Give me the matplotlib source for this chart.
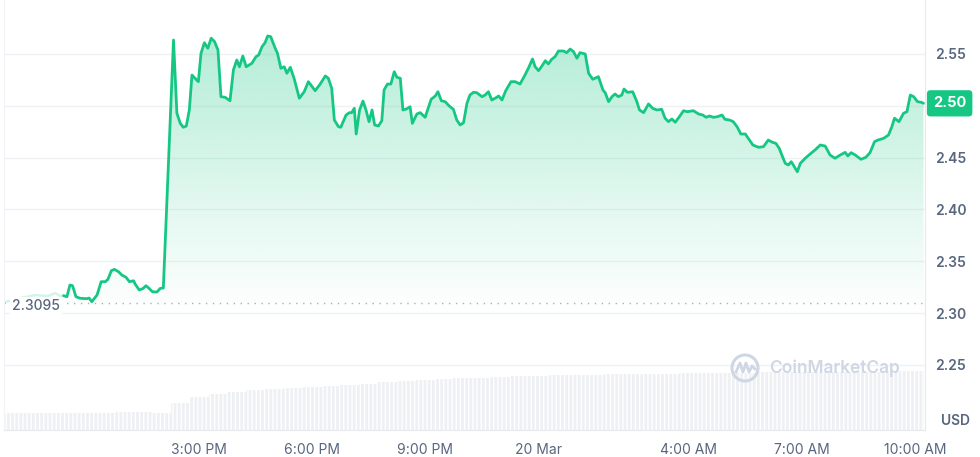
import matplotlib
matplotlib.use("Agg")
import matplotlib.pyplot as plt
import numpy as np
from matplotlib.patches import Circle, Polygon
import matplotlib.transforms as mtransforms

plt.rcParams['font.family'] = ['Inter', 'DejaVu Sans']
plt.rcParams['hatch.color'] = 'white'

GREEN = '#16c784'
GREY = '#58667e'
GRID = '#eff2f5'

# hours relative to 20 Mar 00:00 and price in USD
hours = [-12.60, -12.51, -12.43, -12.36, -12.27, -12.16, -11.98, -11.92, -11.85, -11.71,
         -11.60, -11.49, -11.42, -11.33, -11.25, -11.14, -11.05, -10.94, -10.85, -10.74,
         -10.70, -10.59, -10.50, -10.41, -10.33, -10.24, -10.12, -10.03, -9.95, -9.68,
         -9.59, -9.50, -9.42, -9.34, -9.26, -9.19, -9.11, -9.02, -8.95, -8.86,
         -8.77, -8.68, -8.59, -8.50, -8.42, -8.31, -8.18, -8.09, -8.00, -7.93,
         -7.84, -7.75, -7.60, -7.49, -7.42, -7.33, -7.25, -7.18, -7.10, -6.98,
         -6.92, -6.83, -6.74, -6.67, -6.58, -6.48, -6.34, -6.21, -6.10, -5.92,
         -5.79, -5.65, -5.57, -5.48, -5.41, -5.30, -5.24, -5.10, -5.01, -4.95,
         -4.88, -4.83, -4.74, -4.65, -4.57, -4.49, -4.41, -4.34, -4.24, -4.15,
         -4.09, -4.00, -3.91, -3.82, -3.75, -3.66, -3.59, -3.50, -3.40, -3.34,
         -3.22, -3.13, -3.00, -2.84, -2.73, -2.66, -2.57, -2.47, -2.36, -2.25,
         -2.16, -2.07, -1.98, -1.89, -1.81, -1.72, -1.63, -1.49, -1.41, -1.32,
         -1.23, -1.10, -1.05, -0.96, -0.86, -0.72, -0.61, -0.48, -0.35, -0.26,
         -0.15, -0.08, 0.01, 0.10, 0.19, 0.27, 0.36, 0.45, 0.54, 0.67,
         0.76, 0.85, 0.94, 1.03, 1.11, 1.25, 1.34, 1.45, 1.60, 1.72,
         1.78, 1.87, 1.96, 2.04, 2.13, 2.22, 2.28, 2.37, 2.51, 2.62,
         2.69, 2.80, 2.93, 3.04, 3.15, 3.28, 3.37, 3.46, 3.55, 3.64,
         3.75, 3.86, 3.96, 4.12, 4.26, 4.37, 4.46, 4.55, 4.65, 4.76,
         4.88, 4.96, 5.08, 5.18, 5.29, 5.38, 5.50, 5.58, 5.70, 5.85,
         5.98, 6.11, 6.22, 6.31, 6.40, 6.47, 6.56, 6.64, 6.72, 6.80,
         6.88, 6.96, 7.09, 7.22, 7.35, 7.49, 7.62, 7.75, 7.88, 8.02,
         8.15, 8.22, 8.31, 8.42, 8.57, 8.70, 8.81, 8.93, 9.02, 9.17,
         9.30, 9.39, 9.46, 9.58, 9.70, 9.79, 9.88, 9.97, 10.07, 10.17,
         10.23]
price = [2.3168, 2.3158, 2.3271, 2.3264, 2.3158, 2.3143, 2.3139, 2.3145, 2.3110, 2.3174,
         2.3303, 2.3303, 2.3326, 2.3409, 2.3422, 2.3399, 2.3367, 2.3345, 2.3303, 2.3312,
         2.3281, 2.3223, 2.3235, 2.3264, 2.3239, 2.3206, 2.3203, 2.3239, 2.3242, 2.5635,
         2.4928, 2.4831, 2.4793, 2.4805, 2.4960, 2.5297, 2.5266, 2.5233, 2.5507, 2.5609,
         2.5555, 2.5652, 2.5619, 2.5539, 2.5088, 2.5082, 2.5049, 2.5346, 2.5442, 2.5377,
         2.5481, 2.5377, 2.5410, 2.5474, 2.5490, 2.5570, 2.5609, 2.5674, 2.5667, 2.5555,
         2.5507, 2.5362, 2.5377, 2.5314, 2.5372, 2.5266, 2.5073, 2.5136, 2.5233, 2.5146,
         2.5208, 2.5288, 2.5266, 2.5169, 2.4863, 2.4798, 2.4793, 2.4911, 2.4934, 2.4934,
         2.4976, 2.4728, 2.4960, 2.5046, 2.4960, 2.4847, 2.4960, 2.4815, 2.4805, 2.4856,
         2.5153, 2.5210, 2.5210, 2.5329, 2.5275, 2.5266, 2.4960, 2.4969, 2.4991, 2.4831,
         2.4921, 2.4934, 2.4889, 2.5063, 2.5095, 2.5136, 2.5049, 2.5040, 2.4998, 2.4966,
         2.4863, 2.4815, 2.4837, 2.5024, 2.5104, 2.5130, 2.5127, 2.5088, 2.5104, 2.5136,
         2.5056, 2.5082, 2.5095, 2.5056, 2.5146, 2.5233, 2.5233, 2.5210, 2.5297, 2.5362,
         2.5452, 2.5377, 2.5339, 2.5384, 2.5435, 2.5404, 2.5449, 2.5474, 2.5529, 2.5529,
         2.5513, 2.5548, 2.5522, 2.5459, 2.5513, 2.5500, 2.5314, 2.5256, 2.5281, 2.5153,
         2.5127, 2.5040, 2.5088, 2.5114, 2.5088, 2.5104, 2.5162, 2.5130, 2.5136, 2.5040,
         2.4960, 2.4934, 2.5018, 2.4976, 2.4960, 2.4966, 2.4880, 2.4847, 2.4873, 2.4841,
         2.4895, 2.4953, 2.4943, 2.4953, 2.4921, 2.4911, 2.4889, 2.4902, 2.4889, 2.4895,
         2.4911, 2.4870, 2.4863, 2.4847, 2.4793, 2.4728, 2.4728, 2.4686, 2.4622, 2.4600,
         2.4605, 2.4670, 2.4648, 2.4638, 2.4590, 2.4525, 2.4445, 2.4429, 2.4461, 2.4412,
         2.4364, 2.4445, 2.4494, 2.4535, 2.4574, 2.4622, 2.4612, 2.4525, 2.4494, 2.4525,
         2.4551, 2.4516, 2.4548, 2.4525, 2.4484, 2.4503, 2.4548, 2.4654, 2.4670, 2.4686,
         2.4718, 2.4798, 2.4880, 2.4847, 2.4928, 2.4943, 2.5104, 2.5088, 2.5040, 2.5034,
         2.5024]

# faded part at the start of the window
fade_hours = [-14.15, -13.75, -13.35, -13.01, -12.82, -12.69, -12.60]
fade_price = [2.3107, 2.3145, 2.3174, 2.3165, 2.3193, 2.3165, 2.3168]

open_price = 2.3095

# volume, half-hour buckets (arbitrary units)
vol_hours = np.arange(-14.0, 10.01, 0.5)
volume = [17.3, 17.3, 17.3, 17.3, 17.3, 17.3, 18.3, 18.3, 16.7, 27.5,
          33.3, 36.5, 38.0, 40.5, 41.5, 42.5, 43.2, 44.0, 45.0, 46.0,
          48.0, 49.5, 50.5, 51.2, 52.0, 52.5, 53.5, 54.0, 54.5, 54.8,
          55.0, 55.4, 55.7, 56.0, 56.2, 56.5, 56.8, 57.0, 57.2, 57.4,
          57.6, 57.7, 57.8, 58.0, 58.1, 58.3, 58.5, 58.7, 59.0]

tick_hours = [-9, -6, -3, 0, 4, 7, 10]
tick_labels = ['3:00 PM', '6:00 PM', '9:00 PM', '20 Mar', '4:00 AM', '7:00 AM', '10:00 AM']
price_ticks = [2.25, 2.30, 2.35, 2.40, 2.45, 2.50, 2.55]

xmin, xmax = -14.18, 10.27
ymin, ymax = 2.1872, 2.6021

fig = plt.figure(figsize=(9.8, 4.57), dpi=100)
rect = [4 / 980, 27 / 457, 921 / 980, 430 / 457]

# volume axis underneath
axv = fig.add_axes(rect, zorder=0)
axv.bar(vol_hours, volume, width=0.5, color='#eef0f4', linewidth=0,
        hatch='||||', align='center')
axv.set_xlim(xmin, xmax)
axv.set_ylim(0, 430)
axv.axis('off')

ax = fig.add_axes(rect, zorder=1)
ax.set_facecolor('none')

for t in price_ticks:
    ax.axhline(t, color=GRID, lw=1, zorder=0)

# gradient fill below the price line
fill_top, fill_bot = 2.58, 2.30
grad = np.zeros((256, 1, 4))
grad[:, 0, 0] = 22 / 255
grad[:, 0, 1] = 199 / 255
grad[:, 0, 2] = 132 / 255
grad[:, 0, 3] = np.linspace(0.34, 0.0, 256)
img = ax.imshow(grad, extent=[xmin, xmax, fill_bot, fill_top], aspect='auto',
                origin='upper', zorder=1)
poly = Polygon(np.column_stack([[hours[0]] + hours + [hours[-1]],
                                [fill_bot] + price + [fill_bot]]),
               closed=True, transform=ax.transData)
img.set_clip_path(poly)

fimg = ax.imshow(grad * [1, 1, 1, 0.35], extent=[xmin, xmax, fill_bot, fill_top],
                 aspect='auto', origin='upper', zorder=1)
fpoly = Polygon(np.column_stack([[fade_hours[0]] + fade_hours + [fade_hours[-1]],
                                 [fill_bot] + fade_price + [fill_bot]]),
                closed=True, transform=ax.transData)
fimg.set_clip_path(fpoly)
ax.set_xlim(xmin, xmax)
ax.set_ylim(ymin, ymax)

ax.plot(fade_hours, fade_price, color=GREEN, lw=1.8, alpha=0.18, zorder=2,
        solid_joinstyle='round')
ax.plot(hours, price, color=GREEN, lw=2.0, zorder=3, solid_joinstyle='round',
        solid_capstyle='round')

# open price reference
ax.axhline(open_price, color='#a6b0c3', lw=1.0, ls=(0, (1, 4)), zorder=2)
ax.text(0.009, open_price - 0.0028, str(open_price), transform=ax.get_yaxis_transform(),
        ha='left', va='center', fontsize=10, color=GREY, fontweight='medium',
        bbox=dict(boxstyle='square,pad=0.15', fc='white', ec='none'), zorder=4)

ax.spines['top'].set_visible(False)
ax.spines['right'].set_color('#e6e9ee')
ax.spines['bottom'].set_color('#e6e9ee')
ax.spines['left'].set_color('#f1f3f6')

ax.yaxis.tick_right()
ax.set_yticks(price_ticks)
ax.set_yticklabels(['' if t == 2.50 else f'{t:.2f}' for t in price_ticks])
ax.tick_params(axis='y', length=0, pad=7, labelsize=10, labelcolor=GREY)
for lab in ax.get_yticklabels():
    lab.set_fontweight('semibold')
ax.set_xticks(tick_hours)
ax.set_xticklabels(tick_labels)
ax.tick_params(axis='x', length=0, pad=9, labelsize=10, labelcolor=GREY)

# last price badge
trans = mtransforms.blended_transform_factory(ax.transAxes, ax.transData)
ax.text(1.0 + 8 / 921, price[-1], f'{price[-1]:.2f}', transform=trans, ha='left',
        va='center', fontsize=10.5, fontweight='bold', color='white', zorder=10,
        clip_on=False,
        bbox=dict(boxstyle='round,pad=0.42,rounding_size=0.25', fc=GREEN, ec='none'))

fig.text(955 / 980, 1 - 421 / 457, 'USD', ha='center', va='center', fontsize=10,
         fontweight='semibold', color=GREY)

# watermark
wm = '#cfd6e4'
cy = 1 - 368 / 457
fig.patches.append(Circle((745, 457 - 368), 13, transform=None, fill=False,
                          ec=wm, lw=2.2, zorder=5))
wx = np.array([736, 740, 743, 746, 749, 752, 755])
wy = np.array([372, 363, 372, 363, 372, 366, 369])
fig.lines.append(plt.Line2D(wx, 457 - wy, transform=None, color=wm, lw=2.0,
                            solid_joinstyle='round', zorder=5))
fig.text(769 / 980, cy, 'CoinMarketCap', ha='left', va='center', fontsize=12.5,
         fontweight='semibold', color=wm)

fig.savefig('out.png', dpi=100)
